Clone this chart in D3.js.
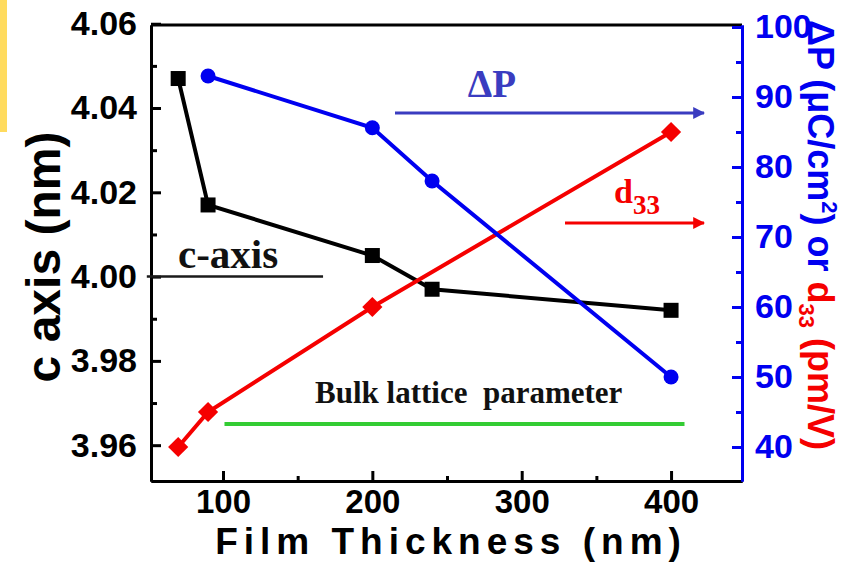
<!DOCTYPE html>
<html>
<head>
<meta charset="utf-8">
<script src="https://cdn.jsdelivr.net/npm/d3@7/dist/d3.min.js"></script>
<style>
  html, body { margin: 0; padding: 0; background: #ffffff; }
  svg { display: block; }
  .sans { font-family: "Liberation Sans", Arial, "DejaVu Sans", sans-serif; font-weight: bold; }
  .serif { font-family: "Liberation Serif", "Times New Roman", serif; font-weight: bold; }
</style>
</head>
<body>
<svg id="chart" width="851" height="562"></svg>
<script>
// c-axis lattice parameter vs film thickness (left axis, nm)
const cThickness = [70, 90, 200, 240, 400];
const cAxis = [4.047, 4.017, 4.005, 3.997, 3.992];

// remanent polarization ΔP (right axis, µC/cm²)
const pThickness = [90, 200, 240, 400];
const deltaP = [93, 85.6, 78, 50];

// piezoelectric coefficient d33 (right axis, pm/V)
const dThickness = [70, 90, 200, 400];
const d33 = [40, 45, 60, 85];

// bulk lattice parameter reference and the c-axis marker line
const bulkC = 3.965;
const bulkSpan = [101, 409];
const cRefValue = 4.00;
const cRefSpan = [49, 167];

// tick values
const xTicks = [100, 200, 300, 400];
const xMinor = [150, 250, 350];
const leftTicks = [3.96, 3.98, 4.00, 4.02, 4.04, 4.06];
const leftMinor = [3.97, 3.99, 4.01, 4.03, 4.05];
const rightTicks = [40, 50, 60, 70, 80, 90, 100];
const rightMinor = [45, 55, 65, 75, 85, 95];

const svg = d3.select("#chart");
const L = 151, R = 742, T = 25, B = 481;

const x = d3.scaleLinear().domain([51.8, 447.5]).range([L, R]);
const yL = d3.scaleLinear().domain([3.9515, 4.0597]).range([B, T]);
const yR = d3.scaleLinear().domain([35.14, 100.29]).range([B, T]);

const BLACK = "#000000", BLUE = "#0000f0", RED = "#f50000", GREEN = "#33cc33", NOTE_BLUE = "#3a3cc0";

// yellow strip at the top-left edge
svg.append("rect").attr("x", 0).attr("y", 0).attr("width", 7).attr("height", 132).attr("fill", "#ffdb5e");

// ---- axes ----
function styleAxis(g, color, fontSize) {
  g.select(".domain").attr("stroke", color).attr("stroke-width", 3);
  g.selectAll(".tick line").attr("stroke", color).attr("stroke-width", 3);
  g.selectAll(".tick text").attr("fill", color).attr("class", "sans").style("font-size", fontSize + "px");
}

// bottom
const gxMinor = svg.append("g").attr("transform", `translate(0,${B})`)
  .call(d3.axisBottom(x).tickValues(xMinor).tickSizeInner(-5).tickSizeOuter(0).tickFormat(""));
styleAxis(gxMinor, BLACK, 33);
const gx = svg.append("g").attr("transform", `translate(0,${B})`)
  .call(d3.axisBottom(x).tickValues(xTicks).tickSizeInner(-10).tickSizeOuter(0).tickPadding(30).tickFormat(d3.format("d")));
styleAxis(gx, BLACK, 33);
gx.selectAll(".tick text").attr("dy", null).attr("y", 32);

// top frame line
svg.append("line").attr("x1", L).attr("x2", R).attr("y1", T).attr("y2", T)
  .attr("stroke", BLACK).attr("stroke-width", 3);

// left
const gyMinor = svg.append("g").attr("transform", `translate(${L},0)`)
  .call(d3.axisLeft(yL).tickValues(leftMinor).tickSizeInner(-6).tickSizeOuter(0).tickFormat(""));
styleAxis(gyMinor, BLACK, 34);
const gy = svg.append("g").attr("transform", `translate(${L},0)`)
  .call(d3.axisLeft(yL).tickValues(leftTicks).tickSizeInner(-10).tickSizeOuter(0).tickPadding(14).tickFormat(d3.format(".2f")));
styleAxis(gy, BLACK, 34);

// right
const grMinor = svg.append("g").attr("transform", `translate(${R},0)`)
  .call(d3.axisRight(yR).tickValues(rightMinor).tickSizeInner(-6).tickSizeOuter(0).tickFormat(""));
styleAxis(grMinor, BLUE, 34);
const gr = svg.append("g").attr("transform", `translate(${R},0)`)
  .call(d3.axisRight(yR).tickValues(rightTicks).tickSizeInner(-10).tickSizeOuter(0).tickPadding(13).tickFormat(d3.format("d")));
styleAxis(gr, BLUE, 34);

// ---- axis titles ----
svg.append("text").attr("class", "sans")
  .attr("transform", "translate(60,257) rotate(-90)")
  .attr("text-anchor", "middle").style("font-size", "48px").attr("fill", BLACK)
  .text("c axis (nm)");

svg.append("text").attr("class", "sans")
  .attr("x", 451).attr("y", 554).attr("text-anchor", "middle")
  .style("font-size", "37px").style("letter-spacing", "6px").attr("fill", BLACK)
  .text("Film Thickness (nm)");

const rt = svg.append("text").attr("class", "sans")
  .attr("transform", "translate(808,20) rotate(90)")
  .style("font-size", "36px");
rt.append("tspan").attr("fill", BLUE).text("ΔP (μC/cm");
rt.append("tspan").attr("fill", BLUE).attr("dy", -14).style("font-size", "22px").text("2");
rt.append("tspan").attr("fill", BLUE).attr("dy", 14).text(") or ");
rt.append("tspan").attr("fill", RED).text("d");
rt.append("tspan").attr("fill", RED).attr("dy", 9).style("font-size", "22px").text("33");
rt.append("tspan").attr("fill", RED).attr("dy", -9).text(" (pm/V)");

// ---- reference lines ----
svg.append("line")
  .attr("x1", x(bulkSpan[0])).attr("x2", x(bulkSpan[1]))
  .attr("y1", yL(bulkC)).attr("y2", yL(bulkC))
  .attr("stroke", GREEN).attr("stroke-width", 4);
svg.append("text").attr("class", "serif")
  .attr("x", 315).attr("y", 403).style("font-size", "31px").attr("fill", "#111")
  .attr("xml:space", "preserve")
  .text("Bulk lattice  parameter");

svg.append("line")
  .attr("x1", x(cRefSpan[0])).attr("x2", x(cRefSpan[1]))
  .attr("y1", yL(cRefValue)).attr("y2", yL(cRefValue))
  .attr("stroke", "#1a1a1a").attr("stroke-width", 2.5);
svg.append("text").attr("class", "serif")
  .attr("x", 178).attr("y", 268).style("font-size", "41px").attr("fill", "#111")
  .text("c-axis");

// ---- series ----
const lineGen = (ys, yScale) => d3.line().x(d => x(d[0])).y(d => yScale(d[1]));

const cPts = cThickness.map((t, i) => [t, cAxis[i]]);
const pPts = pThickness.map((t, i) => [t, deltaP[i]]);
const dPts = dThickness.map((t, i) => [t, d33[i]]);

svg.append("path").datum(cPts).attr("d", lineGen(cAxis, yL))
  .attr("fill", "none").attr("stroke", BLACK).attr("stroke-width", 4);
svg.append("path").datum(dPts).attr("d", lineGen(d33, yR))
  .attr("fill", "none").attr("stroke", RED).attr("stroke-width", 4);
svg.append("path").datum(pPts).attr("d", lineGen(deltaP, yR))
  .attr("fill", "none").attr("stroke", BLUE).attr("stroke-width", 4);

svg.append("g").selectAll("rect").data(cPts).join("rect")
  .attr("x", d => x(d[0]) - 7.5).attr("y", d => yL(d[1]) - 7.5)
  .attr("width", 15).attr("height", 15).attr("fill", BLACK);

svg.append("g").selectAll("path").data(dPts).join("path")
  .attr("d", d3.symbol().type(d3.symbolDiamond2).size(260))
  .attr("transform", d => `translate(${x(d[0])},${yR(d[1])})`)
  .attr("fill", RED);

svg.append("g").selectAll("circle").data(pPts).join("circle")
  .attr("cx", d => x(d[0])).attr("cy", d => yR(d[1])).attr("r", 7.5).attr("fill", BLUE);

// ---- annotations with arrows ----
const defs = svg.append("defs");
function arrowMarker(id, color) {
  defs.append("marker").attr("id", id).attr("viewBox", "0 0 10 10")
    .attr("refX", 9).attr("refY", 5).attr("markerWidth", 4).attr("markerHeight", 4)
    .attr("markerUnits", "strokeWidth").attr("orient", "auto")
    .append("path").attr("d", "M0,0 L10,5 L0,10 Z").attr("fill", color);
}
arrowMarker("arrowBlue", NOTE_BLUE);
arrowMarker("arrowRed", RED);

svg.append("line").attr("x1", 395).attr("x2", 704).attr("y1", 113).attr("y2", 113)
  .attr("stroke", NOTE_BLUE).attr("stroke-width", 3).attr("marker-end", "url(#arrowBlue)");
svg.append("text").attr("class", "serif").attr("x", 492).attr("y", 97)
  .attr("text-anchor", "middle").style("font-size", "39px").attr("fill", NOTE_BLUE).text("ΔP");

svg.append("line").attr("x1", 565).attr("x2", 704).attr("y1", 223).attr("y2", 223)
  .attr("stroke", RED).attr("stroke-width", 3).attr("marker-end", "url(#arrowRed)");
const dt = svg.append("text").attr("class", "serif").attr("x", 614).attr("y", 203)
  .style("font-size", "34px").attr("fill", RED);
dt.append("tspan").text("d");
dt.append("tspan").attr("dy", 11).style("font-size", "27px").text("33");
</script>
</body>
</html>
